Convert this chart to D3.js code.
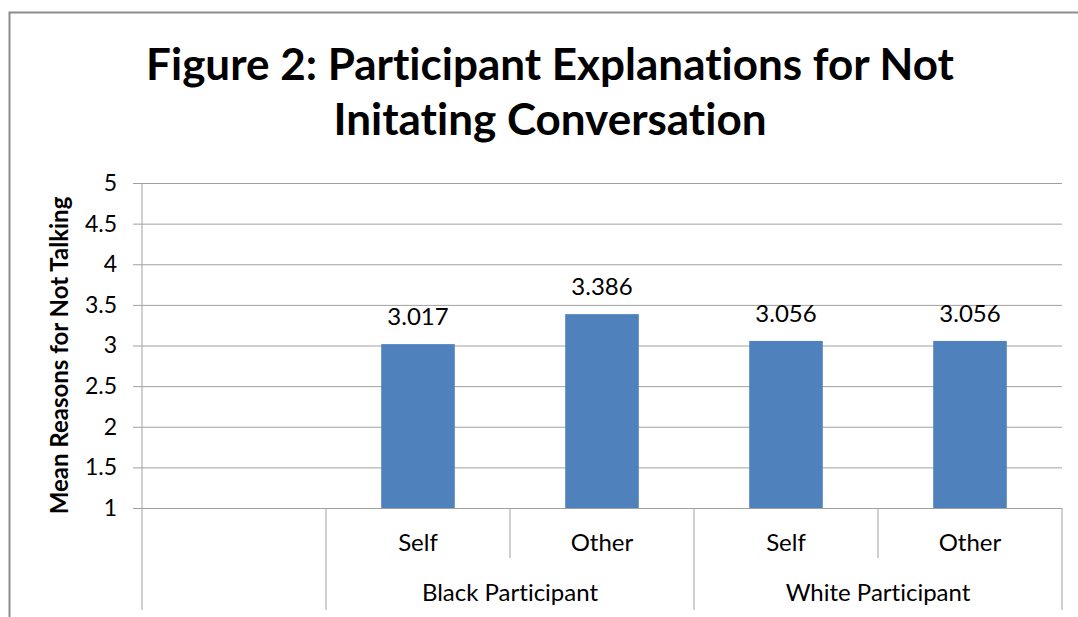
<!DOCTYPE html>
<html>
<head>
<meta charset="utf-8">
<script src="https://cdn.jsdelivr.net/npm/d3@7"></script>
<style>
  body { margin: 0; background: #fff; }
  text { font-family: Lato, "Open Sans", sans-serif; fill: #000; font-variant-ligatures: none; }
</style>
</head>
<body>
<div id="chart"></div>
<script>
// data
const subLabels = ["", "Self", "Other", "Self", "Other"];
const groupLabels = ["", "Black Participant", "Black Participant", "White Participant", "White Participant"];
const values = [null, 3.017, 3.386, 3.056, 3.056];
const yTicks = [1, 1.5, 2, 2.5, 3, 3.5, 4, 4.5, 5];
const titleLines = ["Figure 2: Participant Explanations for Not", "Initating Conversation"];

const W = 1078, H = 617;
const plot = { left: 142, right: 1062, top: 183, bottom: 508 };

const svg = d3.select("#chart").append("svg")
    .attr("width", W).attr("height", H);

// outer chart border
svg.append("rect")
    .attr("x", 9.5).attr("y", 12.5)
    .attr("width", W + 10).attr("height", H + 10)
    .attr("fill", "none").attr("stroke", "#8c8c8c").attr("stroke-width", 2);

// title
svg.append("g").selectAll("text")
    .data(titleLines).enter().append("text")
    .attr("x", 550).attr("y", (d, i) => 80 + i * 55)
    .attr("text-anchor", "middle")
    .style("font-size", "44px").style("font-weight", "bold")
    .text(d => d);

const idx = d3.range(subLabels.length);
const x = d3.scaleBand().domain(idx).range([plot.left, plot.right]).paddingInner(0).paddingOuter(0);
const y = d3.scaleLinear().domain([1, 5]).range([plot.bottom, plot.top]);

// gridlines + y ticks
const yAxis = svg.append("g")
    .attr("transform", `translate(${plot.left},0)`)
    .call(d3.axisLeft(y).tickValues(yTicks).tickFormat(d3.format("")).tickSize(9).tickPadding(16));
yAxis.select(".domain").remove();
yAxis.selectAll("line").attr("stroke", "#a0a0a0");
yAxis.selectAll("text").style("font-size", "23px").style("font-family", "Lato, sans-serif");
yAxis.selectAll(".tick").append("line")
    .attr("x1", 0).attr("x2", plot.right - plot.left)
    .attr("stroke", "#a0a0a0");

// y axis line (extends down through the category table)
svg.append("line")
    .attr("x1", plot.left).attr("x2", plot.left)
    .attr("y1", plot.top).attr("y2", 610)
    .attr("stroke", "#a0a0a0");

// y axis title
svg.append("text")
    .attr("transform", `translate(68,${(plot.top + plot.bottom) / 2 + 10}) rotate(-90)`)
    .attr("text-anchor", "middle")
    .style("font-size", "24px").style("font-weight", "bold")
    .text("Mean Reasons for Not Talking");

// bars
const barW = x.bandwidth() * 0.4;
svg.append("g").selectAll("rect")
    .data(idx.filter(i => values[i] != null)).enter().append("rect")
    .attr("x", i => x(i) + (x.bandwidth() - barW) / 2)
    .attr("width", barW)
    .attr("y", i => y(values[i]))
    .attr("height", i => y(1) - y(values[i]))
    .attr("fill", "#4f81bd");

// data labels
svg.append("g").selectAll("text")
    .data(idx.filter(i => values[i] != null)).enter().append("text")
    .attr("x", i => x(i) + x.bandwidth() / 2)
    .attr("y", i => y(values[i]) - 19)
    .attr("text-anchor", "middle")
    .style("font-size", "24px")
    .text(i => d3.format(".3f")(values[i]));

// category table: inner boundaries
const bounds = d3.range(subLabels.length + 1);
svg.append("g").selectAll("line")
    .data(bounds.slice(1)).enter().append("line")
    .attr("x1", i => i < subLabels.length ? x(i) : plot.right)
    .attr("x2", i => i < subLabels.length ? x(i) : plot.right)
    .attr("y1", plot.bottom)
    .attr("y2", i => (i === subLabels.length || groupLabels[i] !== groupLabels[i - 1]) ? 610 : 558)
    .attr("stroke", "#a0a0a0");

// sub labels
svg.append("g").selectAll("text")
    .data(idx).enter().append("text")
    .attr("x", i => x(i) + x.bandwidth() / 2)
    .attr("y", 551)
    .attr("text-anchor", "middle")
    .style("font-size", "24px")
    .text(i => subLabels[i]);

// group labels
const groups = [];
groupLabels.forEach((g, i) => {
    const last = groups[groups.length - 1];
    if (last && last.name === g) last.end = i;
    else groups.push({ name: g, start: i, end: i });
});
svg.append("g").selectAll("text")
    .data(groups).enter().append("text")
    .attr("x", d => (x(d.start) + x(d.end) + x.bandwidth()) / 2)
    .attr("y", 601)
    .attr("text-anchor", "middle")
    .style("font-size", "24px")
    .text(d => d.name);
</script>
</body>
</html>
